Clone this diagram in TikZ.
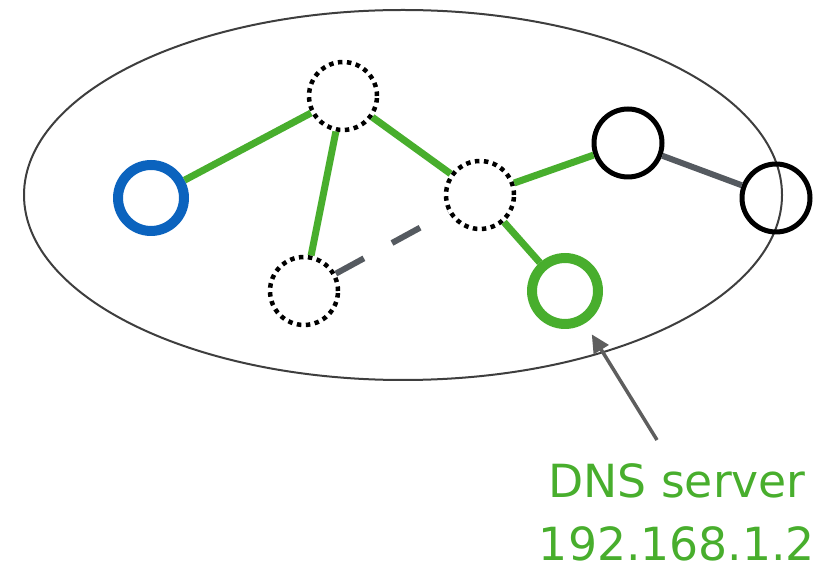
\documentclass[tikz,border=0pt]{standalone}
\usepackage{fontspec}
\setsansfont{DejaVu Sans}
\usetikzlibrary{arrows.meta}
\definecolor{netgreen}{HTML}{48AE2D}
\definecolor{netblue}{HTML}{0B63BE}
\definecolor{netgray}{HTML}{555A60}
\definecolor{zonegray}{HTML}{3E3E3E}
\definecolor{ptrgray}{HTML}{5E5E5E}

\begin{document}
\begin{tikzpicture}[x=0.02cm,y=-0.02cm,
 host/.style={circle,draw,inner sep=0pt,minimum size=1.36cm,line width=0.1cm},
 hidden/.style={host,line width=0.09cm,dash pattern=on 0.09cm off 0.09cm},
 client/.style={host,draw=netblue,line width=0.2cm,minimum size=1.32cm},
 dns/.style={host,draw=netgreen,line width=0.2cm,minimum size=1.32cm},
 path/.style={draw=netgreen,line width=0.14cm},
 link/.style={draw=netgray,line width=0.12cm},
 guess/.style={link,dash pattern=on 0.64cm off 0.64cm},
 pointer/.style={-{Triangle[length=0.36cm,width=0.34cm]},draw=ptrgray,fill=ptrgray,line width=0.07cm},
 lbl/.style={text=netgreen,font=\sffamily\fontsize{26}{30}\selectfont,inner sep=0pt,anchor=base}]
\useasboundingbox (0,0) rectangle (834,570);
% local network
\draw[zonegray,line width=0.04cm] (403,195) ellipse [x radius=379, y radius=185];
% hosts
\node[client] (me) at (151,198) {};
\node[hidden] (r1) at (343,96) {};
\node[hidden] (r2) at (480,195) {};
\node[hidden] (r3) at (304,291) {};
\node[host] (gw) at (628,143) {};
\node[host] (out) at (776,198) {};
\node[dns] (ns) at (565,291) {};
% links
\draw[path] (me) -- (r1);
\draw[path] (r1) -- (r3);
\draw[path] (r1) -- (r2);
\draw[path] (r2) -- (gw);
\draw[path] (r2) -- (ns);
\draw[link] (gw) -- (out);
\draw[guess] (r3) -- (r2);
% label
\node[lbl] (nsname) at (677,497) {DNS server};
\node[lbl] (nsaddr) at (677,560) {192.168.1.2};
\coordinate (tail) at (657,440);
\draw[pointer,shorten >=0.26cm] (tail) -- (ns);
\end{tikzpicture}
\end{document}
